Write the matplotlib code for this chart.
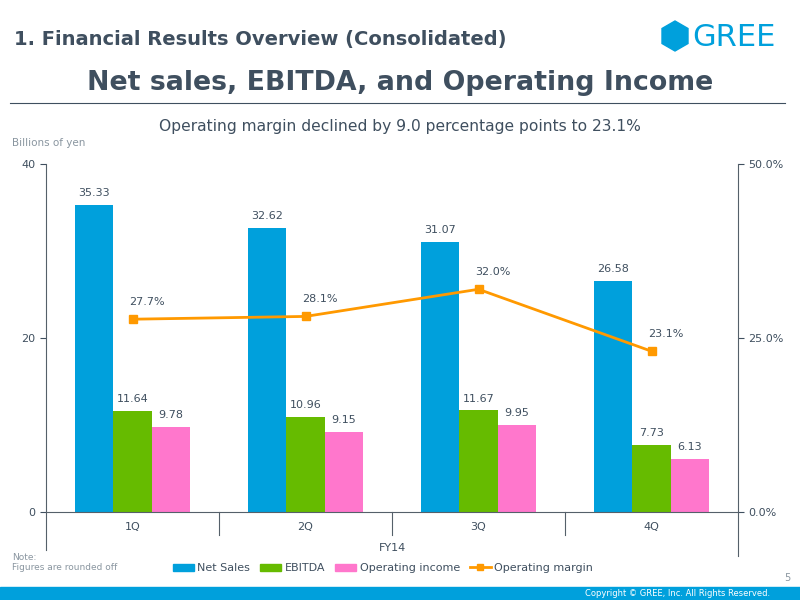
import matplotlib.pyplot as plt
from matplotlib.patches import Polygon, Rectangle
from matplotlib.lines import Line2D

quarters = ["1Q", "2Q", "3Q", "4Q"]
net_sales = [35.33, 32.62, 31.07, 26.58]
ebitda = [11.64, 10.96, 11.67, 7.73]
op_income = [9.78, 9.15, 9.95, 6.13]
op_margin = [27.7, 28.1, 32.0, 23.1]

TXT = "#3f4f5f"
BLUE = "#00a0dc"
GREEN = "#66bb00"
PINK = "#ff77cc"
ORANGE = "#ff9900"

plt.rcParams['font.family'] = ['DejaVu Sans']

fig = plt.figure(figsize=(8, 6), dpi=100)


def fx(px):
    return px / 800


def fy(py):
    return 1 - py / 600


# header
fig.text(fx(14), fy(40), "1. Financial Results Overview (Consolidated)", fontsize=14,
         fontweight="bold", color=TXT, va="center", ha="left")
fig.text(fx(400), fy(83), "Net sales, EBITDA, and Operating Income", fontsize=19.3,
         fontweight="bold", color=TXT, va="center", ha="center")
fig.add_artist(Line2D([fx(10), fx(785)], [fy(103), fy(103)], color=TXT, lw=0.8))
fig.text(fx(400), fy(127), "Operating margin declined by 9.0 percentage points to 23.1%",
         fontsize=11.2, color=TXT, va="center", ha="center")
fig.text(fx(12), fy(143), "Billions of yen", fontsize=7.5, color="#8a96a0", va="center")

# logo
hexagon = [(675, 21), (688, 28.5), (688, 43.5), (675, 51), (662, 43.5), (662, 28.5)]
fig.add_artist(Polygon([(fx(a), fy(b)) for a, b in hexagon], closed=True, color=BLUE,
                       transform=fig.transFigure))
fig.text(fx(692), fy(37), "GREE", fontsize=22, color=BLUE, va="center", ha="left")

ax = fig.add_axes([fx(46), fy(512), fx(738) - fx(46), (512 - 164) / 600])
x = list(range(len(quarters)))
w = 0.22
b1 = ax.bar([i - w for i in x], net_sales, w, color=BLUE)
b2 = ax.bar(x, ebitda, w, color=GREEN)
b3 = ax.bar([i + w for i in x], op_income, w, color=PINK)
for bars, vals in [(b1, net_sales), (b2, ebitda), (b3, op_income)]:
    for r, v in zip(bars, vals):
        ax.text(r.get_x() + r.get_width() / 2, v + 0.8, f"{v:.2f}", ha="center",
                va="bottom", fontsize=8, color=TXT)

ax.set_xlim(-0.5, 3.5)
ax.set_ylim(0, 40)
ax.set_yticks([0, 20, 40])
ax.set_xticks([])
ax.tick_params(axis="y", labelsize=8, colors=TXT, length=4, direction="out")
for s in ["top", "right"]:
    ax.spines[s].set_visible(False)
ax.spines["left"].set_color("#55606a")
ax.spines["bottom"].set_color("#55606a")

trans = ax.get_xaxis_transform()
for sep in [0.5, 1.5, 2.5]:
    ax.plot([sep, sep], [0, -0.066], color="#55606a", lw=0.8, transform=trans, clip_on=False)
ax.plot([-0.5, -0.5], [0, -0.11], color="#55606a", lw=0.8, transform=trans, clip_on=False)
for i, q in enumerate(quarters):
    ax.text(i, -0.043, q, transform=trans, ha="center", va="center", fontsize=8, color=TXT)
ax.text(1.5, -0.103, "FY14", transform=trans, ha="center", va="center", fontsize=8, color=TXT)

ax2 = ax.twinx()
ax2.set_ylim(0, 50)
ax2.set_yticks([0, 25, 50])
ax2.set_yticklabels(["0.0%", "25.0%", "50.0%"])
ax2.tick_params(axis="y", labelsize=8, colors=TXT, length=4, direction="out")
for s in ["top", "left", "bottom"]:
    ax2.spines[s].set_visible(False)
ax2.spines["right"].set_color("#55606a")
ax2.spines["right"].set_bounds(0, 50)
ax2.plot([3.5, 3.5], [0, -0.125], color="#55606a", lw=0.8, transform=ax2.get_xaxis_transform(),
         clip_on=False)
ax2.plot(x, op_margin, color=ORANGE, lw=2, marker="s", markersize=6)
for i, v in zip(x, op_margin):
    ax2.text(i + 0.085, v + 1.8, f"{v:.1f}%", ha="center", va="bottom", fontsize=8, color=TXT)

handles = [Rectangle((0, 0), 1, 1, color=BLUE), Rectangle((0, 0), 1, 1, color=GREEN),
           Rectangle((0, 0), 1, 1, color=PINK),
           Line2D([], [], color=ORANGE, lw=2, marker="s", markersize=5)]
fig.legend(handles, ["Net Sales", "EBITDA", "Operating income", "Operating margin"],
           loc="center", bbox_to_anchor=(fx(383), fy(568)), ncol=4, frameon=False,
           fontsize=8, labelcolor=TXT, handlelength=1.9, handleheight=0.6,
           handletextpad=0.3, columnspacing=0.9)

fig.text(fx(12), fy(557), "Note:", fontsize=6.5, color="#8a96a0", va="center")
fig.text(fx(12), fy(568), "Figures are rounded off", fontsize=6.5, color="#8a96a0", va="center")
fig.text(fx(790), fy(578), "5", fontsize=7, color="#8a96a0", va="center", ha="right")

fig.add_artist(Rectangle((0, 0), 1, 13 / 600, color=BLUE, transform=fig.transFigure))
fig.text(fx(770), fy(593), "Copyright \u00a9 GREE, Inc. All Rights Reserved.", fontsize=6,
         color="white", va="center", ha="right")

fig.savefig("out.png", dpi=100)
